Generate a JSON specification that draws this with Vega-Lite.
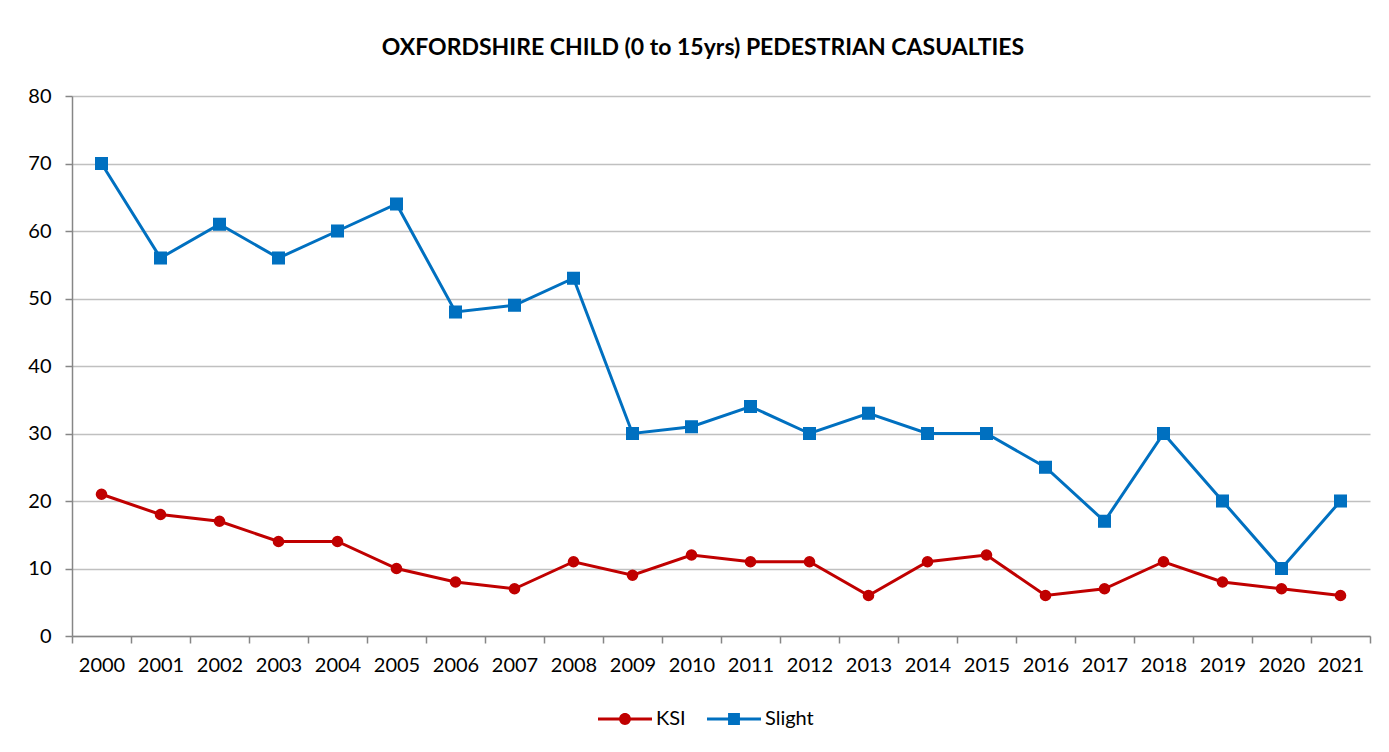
{
  "$schema": "https://vega.github.io/schema/vega-lite/v6.json",
  "width": 1298,
  "height": 540,
  "autosize": {"type": "none"},
  "padding": {"left": 72, "top": 96, "right": 19, "bottom": 116},
  "background": "white",
  "config": {"view": {"stroke": null}, "font": "Lato"},
  "title": {
    "text": "OXFORDSHIRE CHILD (0 to 15yrs) PEDESTRIAN CASUALTIES",
    "font": "Lato", "fontSize": 23, "fontWeight": "bold", "color": "black",
    "anchor": "middle", "offset": 26, "dx": -18
  },
  "data": {"values": [
    {"year": "2000", "series": "KSI", "value": 21}, {"year": "2000", "series": "Slight", "value": 70},
    {"year": "2001", "series": "KSI", "value": 18}, {"year": "2001", "series": "Slight", "value": 56},
    {"year": "2002", "series": "KSI", "value": 17}, {"year": "2002", "series": "Slight", "value": 61},
    {"year": "2003", "series": "KSI", "value": 14}, {"year": "2003", "series": "Slight", "value": 56},
    {"year": "2004", "series": "KSI", "value": 14}, {"year": "2004", "series": "Slight", "value": 60},
    {"year": "2005", "series": "KSI", "value": 10}, {"year": "2005", "series": "Slight", "value": 64},
    {"year": "2006", "series": "KSI", "value": 8}, {"year": "2006", "series": "Slight", "value": 48},
    {"year": "2007", "series": "KSI", "value": 7}, {"year": "2007", "series": "Slight", "value": 49},
    {"year": "2008", "series": "KSI", "value": 11}, {"year": "2008", "series": "Slight", "value": 53},
    {"year": "2009", "series": "KSI", "value": 9}, {"year": "2009", "series": "Slight", "value": 30},
    {"year": "2010", "series": "KSI", "value": 12}, {"year": "2010", "series": "Slight", "value": 31},
    {"year": "2011", "series": "KSI", "value": 11}, {"year": "2011", "series": "Slight", "value": 34},
    {"year": "2012", "series": "KSI", "value": 11}, {"year": "2012", "series": "Slight", "value": 30},
    {"year": "2013", "series": "KSI", "value": 6}, {"year": "2013", "series": "Slight", "value": 33},
    {"year": "2014", "series": "KSI", "value": 11}, {"year": "2014", "series": "Slight", "value": 30},
    {"year": "2015", "series": "KSI", "value": 12}, {"year": "2015", "series": "Slight", "value": 30},
    {"year": "2016", "series": "KSI", "value": 6}, {"year": "2016", "series": "Slight", "value": 25},
    {"year": "2017", "series": "KSI", "value": 7}, {"year": "2017", "series": "Slight", "value": 17},
    {"year": "2018", "series": "KSI", "value": 11}, {"year": "2018", "series": "Slight", "value": 30},
    {"year": "2019", "series": "KSI", "value": 8}, {"year": "2019", "series": "Slight", "value": 20},
    {"year": "2020", "series": "KSI", "value": 7}, {"year": "2020", "series": "Slight", "value": 10},
    {"year": "2021", "series": "KSI", "value": 6}, {"year": "2021", "series": "Slight", "value": 20}
  ]},
  "encoding": {
    "x": {
      "field": "year", "type": "nominal", "bandPosition": 0.5,
      "scale": {"type": "band", "paddingInner": 0, "paddingOuter": 0},
      "axis": {
        "title": null, "labelAngle": 0, "tickBand": "extent",
        "labelFont": "Lato", "labelFontSize": 20, "labelColor": "black",
        "labelPadding": 12, "tickSize": 7, "tickColor": "#868686", "tickWidth": 1.5,
        "domainColor": "#868686", "domainWidth": 1.5, "grid": false
      }
    },
    "y": {
      "field": "value", "type": "quantitative",
      "scale": {"domain": [0, 80], "nice": false},
      "axis": {
        "title": null, "values": [0, 10, 20, 30, 40, 50, 60, 70, 80],
        "labelFont": "Lato", "labelFontSize": 20, "labelColor": "black",
        "labelPadding": 14, "tickSize": 7, "tickColor": "#868686", "tickWidth": 1.5,
        "domainColor": "#868686", "domainWidth": 1.5,
        "grid": true, "gridColor": "#c0c0c0", "gridWidth": 1.5
      }
    },
    "color": {
      "field": "series", "type": "nominal",
      "scale": {"domain": ["KSI", "Slight"], "range": ["#c00000", "#0070c0"]},
      "legend": {
        "title": null, "orient": "none", "direction": "horizontal",
        "legendX": 526, "legendY": 596,
        "labelFont": "Lato", "labelFontSize": 20, "labelColor": "black",
        "symbolSize": 2916, "columnPadding": 21, "labelOffset": 4,
        "symbolStrokeWidth": 0
      }
    }
  },
  "layer": [
    {
      "mark": {"type": "line", "strokeWidth": 3}
    },
    {
      "transform": [{"filter": "datum.series === 'KSI'"}],
      "mark": {"type": "point", "shape": "circle", "filled": true, "opacity": 1, "size": 135}
    },
    {
      "transform": [{"filter": "datum.series === 'Slight'"}],
      "mark": {"type": "point", "shape": "square", "filled": true, "opacity": 1, "size": 170}
    },
    {
      "transform": [{"filter": "datum.value < 0"}],
      "mark": {"type": "point", "filled": true, "opacity": 1},
      "encoding": {
        "shape": {
          "field": "series", "type": "nominal",
          "scale": {
            "domain": ["KSI", "Slight"],
            "range": [
              "M-1,-0.055H1V0.055H-1Z M0.22,0A0.22,0.22 0 1,1 -0.22,0A0.22,0.22 0 1,1 0.22,0Z",
              "M-1,-0.055H1V0.055H-1Z M-0.22,-0.22H0.22V0.22H-0.22Z"
            ]
          },
          "legend": {
            "title": null, "orient": "none", "direction": "horizontal",
            "legendX": 526, "legendY": 596,
            "labelFont": "Lato", "labelFontSize": 20, "labelColor": "black",
            "symbolSize": 2916, "columnPadding": 21, "labelOffset": 4,
            "symbolStrokeWidth": 0
          }
        }
      }
    }
  ]
}
